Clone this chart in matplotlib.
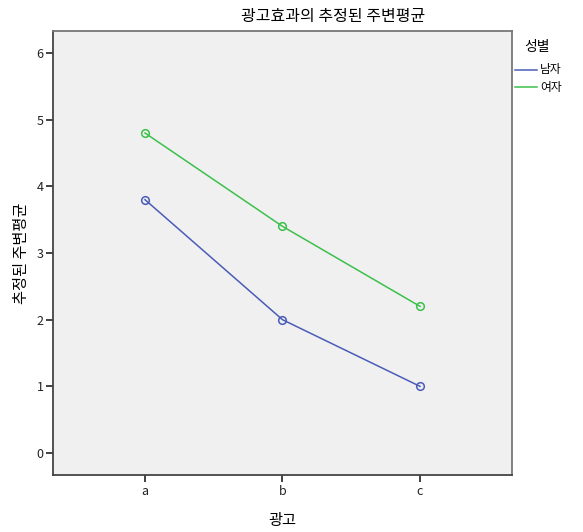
import matplotlib.pyplot as plt

plt.rcParams['font.family'] = ['Noto Sans CJK KR', 'DejaVu Sans']

# 데이터
ads = ['a', 'b', 'c']
male = [3.8, 2.0, 1.0]
female = [4.8, 3.4, 2.2]
series_names = ['남자', '여자']
colors = ['#4a5cb8', '#3cc04c']

fig = plt.figure(figsize=(5.83, 5.32), dpi=100)
ax = fig.add_axes([0.0914, 0.1071, 0.7863, 0.8346])
ax.set_facecolor('#f0f0f0')

x = range(len(ads))
for vals, name, col in zip([male, female], series_names, colors):
    ax.plot(x, vals, color=col, linewidth=1.1, marker='o', markersize=5.5,
            markerfacecolor='none', markeredgecolor=col, markeredgewidth=1.1,
            label=name)

ax.set_xlim(-0.667, 2.667)
ax.set_ylim(-0.33, 6.33)
ax.set_xticks(list(x))
ax.set_xticklabels(ads)
ax.set_yticks(range(0, 7))

for side in ['left', 'bottom']:
    ax.spines[side].set_color('#444444')
    ax.spines[side].set_linewidth(1.3)
for side in ['right', 'top']:
    ax.spines[side].set_color('#777777')
    ax.spines[side].set_linewidth(1.3)
ax.tick_params(axis='both', direction='out', length=5, width=1.3,
               color='#333333', labelsize=9, labelcolor='#222222', pad=2)

ax.set_xlabel('광고', fontsize=11, labelpad=10)
ax.set_ylabel('추정된 주변평균', fontsize=11, labelpad=5)

fig.text(0.571, 0.969, '광고효과의 추정된 주변평균', fontsize=11.5,
         ha='center', va='center')

# 범례
fig.text(537 / 583, 1 - 47 / 532, '성별', fontsize=10, ha='center', va='center')
for i, (name, col) in enumerate(zip(series_names, colors)):
    yy = 1 - (70 + 17 * i) / 532
    fig.add_artist(plt.Line2D([515 / 583, 537 / 583], [yy, yy], color=col,
                              linewidth=1.1))
    fig.text(540 / 583, yy, name, fontsize=8.5, ha='left', va='center')

plt.savefig('out.png', dpi=100)
